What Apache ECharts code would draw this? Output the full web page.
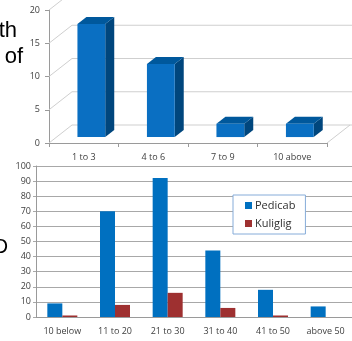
<!DOCTYPE html>
<html>
<head>
<meta charset="utf-8">
<script src="https://cdn.jsdelivr.net/npm/echarts@6/dist/echarts.min.js"></script>
<style>
  html, body { margin: 0; padding: 0; background: #ffffff; }
  #chart { width: 352px; height: 341px; }
</style>
</head>
<body>
<div id="chart"></div>
<script>
// Upper chart: 3D columns
const topCategories = ['1 to 3', '4 to 6', '7 to 9', '10 above'];
const topValues = [17, 11, 2, 2];
const topTicks = [0, 5, 10, 15, 20];

// Lower chart: grouped columns
const ageGroups = ['10 below', '11 to 20', '21 to 30', '31 to 40', '41 to 50', 'above 50'];
const pedicab = [9, 70, 92, 44, 18, 7];
const kuliglig = [1, 8, 16, 6, 1, 0];
const lowerTicks = [0, 10, 20, 30, 40, 50, 60, 70, 80, 90, 100];

const FONT = '"Open Sans", "DejaVu Sans", sans-serif';
const LABEL_COLOR = '#404040';

// depth of the 3D floor / walls and of the columns
const DX = 23, DY = 18;
const F0 = 0.33;          // front face of a column, as a fraction of floor depth
const BDX = 9, BDY = 7;   // column depth

const chart = echarts.init(document.getElementById('chart'), null, { renderer: 'canvas' });

function wallLines(params, api) {
  const cs = params.coordSys;
  const v = api.value(1);
  const y = api.coord([0, v])[1];
  const x0 = cs.x, x1 = cs.x + cs.width;
  const style = { stroke: '#cfcfcf', lineWidth: 1 };
  const children = [
    { type: 'line', shape: { x1: x0, y1: y, x2: x0 + DX, y2: y - DY }, style },
    { type: 'line', shape: { x1: x0 + DX, y1: y - DY, x2: x1 + DX + 10, y2: y - DY }, style }
  ];
  if (v === 0) {
    children.push({ type: 'line', shape: { x1: x1, y1: y, x2: x1 + DX, y2: y - DY }, style });
  }
  return { type: 'group', children };
}

function column3d(params, api) {
  const i = api.value(0), v = api.value(1);
  const top = api.coord([i, v]);
  const base = api.coord([i, 0]);
  const band = api.size([1, 0])[0];
  const w = band * 0.40;
  const L = top[0] - w / 2 + DX * F0;
  const R = L + w;
  const T = top[1] - DY * F0;
  const B = base[1] - DY * F0;
  return {
    type: 'group',
    children: [
      { type: 'polygon', shape: { points: [[R, T], [R + BDX, T - BDY], [R + BDX, B - BDY], [R, B]] },
        style: { fill: '#00467d' } },
      { type: 'polygon', shape: { points: [[L, T], [L + BDX, T - BDY], [R + BDX, T - BDY], [R, T]] },
        style: { fill: '#00589c' } },
      { type: 'rect', shape: { x: L, y: T, width: w, height: B - T },
        style: { fill: '#0a6fc2' } }
    ]
  };
}

const option = {
  backgroundColor: '#ffffff',
  animation: false,
  textStyle: { fontFamily: FONT },
  graphic: [
    { type: 'text', left: null, x: 17, y: 42, style: { text: 'th', font: '22px "Liberation Sans", sans-serif', fill: '#000', align: 'right', verticalAlign: 'bottom' } },
    { type: 'text', x: 23, y: 68, style: { text: 'of', font: '22px "Liberation Sans", sans-serif', fill: '#000', align: 'right', verticalAlign: 'bottom' } },
    { type: 'text', x: 8, y: 257, style: { text: 'O', font: '20px "Liberation Sans", sans-serif', fill: '#000', align: 'right', verticalAlign: 'bottom' } }
  ],
  legend: {
    data: ['Pedicab', 'Kuliglig'],
    orient: 'vertical',
    left: 233,
    top: 195,
    padding: [5, 10, 5, 12],
    itemGap: 7,
    itemWidth: 7,
    itemHeight: 7,
    icon: 'rect',
    borderColor: '#86acd9',
    borderWidth: 1,
    backgroundColor: '#ffffff',
    textStyle: { fontSize: 11, color: '#303030', fontFamily: FONT, padding: [0, 0, 0, -2] }
  },
  grid: [
    { left: 49, top: 10, width: 278, height: 133 },
    { left: 36, top: 166, width: 318, height: 151 }
  ],
  xAxis: [
    {
      gridIndex: 0, type: 'category', data: topCategories,
      axisLine: { lineStyle: { color: '#9a9a9a' } },
      axisTick: { show: true, length: 4, lineStyle: { color: '#9a9a9a' } },
      axisLabel: { fontSize: 9, color: LABEL_COLOR, margin: 10, fontFamily: FONT },
      splitLine: { show: false }
    },
    {
      gridIndex: 1, type: 'category', data: ageGroups,
      axisLine: { lineStyle: { color: '#9a9a9a' } },
      axisTick: { show: false },
      axisLabel: { fontSize: 9, color: LABEL_COLOR, margin: 10, fontFamily: FONT },
      splitLine: { show: false }
    }
  ],
  yAxis: [
    {
      gridIndex: 0, type: 'value', min: topTicks[0], max: topTicks[topTicks.length - 1], interval: 5,
      axisLine: { show: true, lineStyle: { color: '#9a9a9a' } },
      axisTick: { show: true, length: 4, lineStyle: { color: '#9a9a9a' } },
      axisLabel: { fontSize: 9, color: LABEL_COLOR, margin: 9, fontFamily: FONT },
      splitLine: { show: false }
    },
    {
      gridIndex: 1, type: 'value', min: lowerTicks[0], max: lowerTicks[lowerTicks.length - 1], interval: 10,
      axisLine: { show: true, lineStyle: { color: '#9a9a9a' } },
      axisTick: { show: true, length: 3, lineStyle: { color: '#a8a8a8' } },
      axisLabel: { fontSize: 9, color: LABEL_COLOR, margin: 5, fontFamily: FONT },
      splitLine: { show: true, lineStyle: { color: '#a8a8a8', width: 1 } }
    }
  ],
  series: [
    {
      type: 'custom', name: 'walls', xAxisIndex: 0, yAxisIndex: 0, clip: false, silent: true, z: 1,
      renderItem: wallLines,
      data: topTicks.map(v => [0, v])
    },
    {
      type: 'custom', name: 'columns', xAxisIndex: 0, yAxisIndex: 0, clip: false, z: 3,
      renderItem: column3d,
      data: topValues.map((v, i) => [i, v])
    },
    {
      type: 'bar', name: 'Pedicab', xAxisIndex: 1, yAxisIndex: 1,
      data: pedicab, barWidth: 15, barGap: '0%',
      itemStyle: { color: '#0070c0' }
    },
    {
      type: 'bar', name: 'Kuliglig', xAxisIndex: 1, yAxisIndex: 1,
      data: kuliglig, barWidth: 15, barGap: '0%',
      itemStyle: { color: '#9e3030' }
    }
  ]
};

chart.setOption(option);
</script>
</body>
</html>
